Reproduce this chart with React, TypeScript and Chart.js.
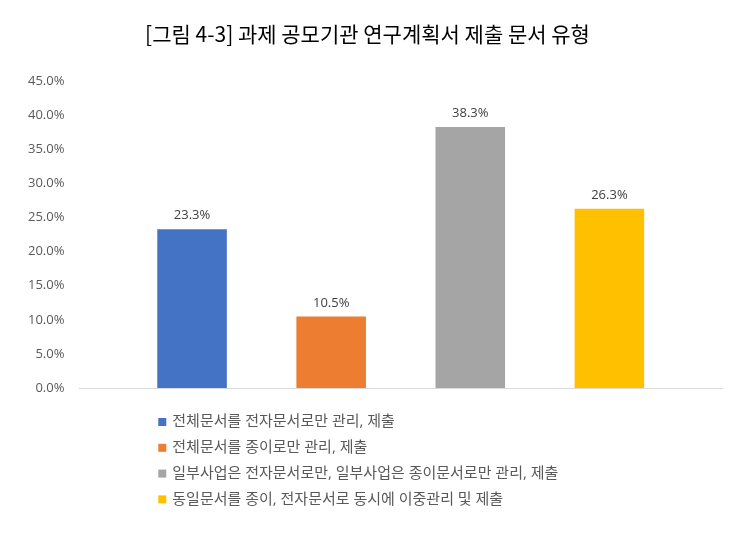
import React, { useEffect, useRef } from "react";
import { Chart, registerables } from "chart.js";

Chart.register(...registerables);

const categories = [""];
const seriesLabels = [
  "전체문서를 전자문서로만 관리, 제출",
  "전체문서를 종이로만 관리, 제출",
  "일부사업은 전자문서로만, 일부사업은 종이문서로만 관리, 제출",
  "동일문서를 종이, 전자문서로 동시에 이중관리 및 제출",
];
const seriesValues = [23.3, 10.5, 38.3, 26.3];
const seriesColors = ["#4472C4", "#ED7D31", "#A5A5A5", "#FFC000"];
const titleText = "[그림 4-3] 과제 공모기관 연구계획서 제출 문서 유형";

const FONT = "'Open Sans', 'Noto Sans CJK KR', sans-serif";

const valueLabelPlugin = {
  id: "valueLabels",
  afterDatasetsDraw(chart: any) {
    const ctx = chart.ctx;
    ctx.save();
    ctx.font = `13px ${FONT}`;
    ctx.fillStyle = "#404040";
    ctx.textAlign = "center";
    ctx.textBaseline = "bottom";
    chart.data.datasets.forEach((ds: any, i: number) => {
      const meta = chart.getDatasetMeta(i);
      meta.data.forEach((bar: any, j: number) => {
        const v = ds.data[j];
        if (v == null) return;
        ctx.fillText(v.toFixed(1) + "%", bar.x, bar.y - 7);
      });
    });
    ctx.restore();
  },
};

const customLegendPlugin = {
  id: "customLegend",
  afterDraw(chart: any) {
    const ctx = chart.ctx;
    const area = chart.chartArea;
    const firstBar = chart.getDatasetMeta(0).data[0];
    const startX = firstBar ? firstBar.x - firstBar.width / 2 + 1 : area.left + 80;
    const startY = area.bottom + 34;
    const rowH = 25.8;
    ctx.save();
    ctx.font = `15px ${FONT}`;
    ctx.textBaseline = "middle";
    ctx.textAlign = "left";
    chart.data.datasets.forEach((ds: any, i: number) => {
      const y = startY + i * rowH;
      ctx.fillStyle = ds.backgroundColor;
      ctx.fillRect(startX, y - 4, 8, 8);
      ctx.fillStyle = "#595959";
      ctx.fillText(ds.label, startX + 14, y);
    });
    ctx.restore();
  },
};

export default function App() {
  const canvasRef = useRef<HTMLCanvasElement | null>(null);

  useEffect(() => {
    if (!canvasRef.current) return;
    const chart = new Chart(canvasRef.current, {
      type: "bar",
      data: {
        labels: categories,
        datasets: seriesLabels.map((label, i) => ({
          label,
          data: [seriesValues[i]],
          backgroundColor: seriesColors[i],
          borderWidth: 0,
          categoryPercentage: 0.866,
          barPercentage: 0.5,
        })),
      },
      options: {
        responsive: false,
        animation: false,
        layout: { padding: { left: 13, right: 30, top: 0, bottom: 148 } },
        plugins: {
          legend: { display: false },
          tooltip: { enabled: false },
          title: {
            display: true,
            text: titleText,
            color: "#000000",
            font: { family: "'Noto Sans CJK KR', sans-serif", size: 21, weight: "normal" },
            padding: { top: 21, bottom: 35 },
          },
        },
        scales: {
          x: {
            grid: { display: false, drawTicks: false },
            ticks: { display: false },
            border: { display: true, color: "#D9D9D9", width: 1 },
          },
          y: {
            min: 0,
            max: 45,
            grid: { display: false, drawTicks: false },
            border: { display: false },
            ticks: {
              stepSize: 5,
              padding: 15,
              color: "#595959",
              font: { family: FONT, size: 13 },
              callback: (v: any) => Number(v).toFixed(1) + "%",
            },
          },
        },
      },
      plugins: [valueLabelPlugin, customLegendPlugin],
    });
    return () => chart.destroy();
  }, []);

  return (
    <div style={{ position: "absolute", left: 0, top: 0, width: 752, height: 536, background: "#fff" }}>
      <canvas ref={canvasRef} width={752} height={536} />
    </div>
  );
}
